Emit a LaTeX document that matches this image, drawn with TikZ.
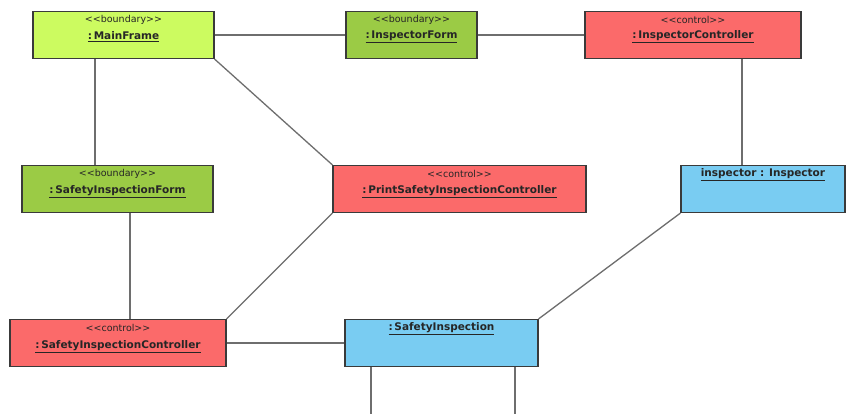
\documentclass[tikz,border=0pt]{standalone}
\usepackage{fontspec}
\setmainfont{DejaVu Sans}
\usetikzlibrary{calc}
\definecolor{boundlight}{HTML}{CCFB60}
\definecolor{bounddark}{HTML}{9BCB45}
\definecolor{ctrlred}{HTML}{FB6A6A}
\definecolor{entblue}{HTML}{79CCF2}
\definecolor{edgegray}{HTML}{3A3A3A}
\definecolor{linkgray}{HTML}{6E6E6E}
% stereotype in double angle brackets, kept apart so no guillemet ligature forms
\newcommand\umlstereo[1]{{<}{<}#1{>}{>}}
\begin{document}
\begin{tikzpicture}[x=1pt,y=-1pt,
  obj/.style={draw=edgegray, line width=1.2pt, inner sep=0pt, minimum height=47pt},
  bndA/.style={obj, fill=boundlight},
  bndB/.style={obj, fill=bounddark},
  ctl/.style={obj, fill=ctrlred},
  ent/.style={obj, fill=entblue},
  stereo/.style={inner sep=0pt, font=\fontsize{9.5}{10}\selectfont, text=black!85},
  oname/.style={inner sep=0pt, font=\fontsize{10.5}{11}\selectfont\bfseries, text=black!85},
  link/.style={draw=linkgray, line width=1.3pt}
]
\useasboundingbox (0,0) rectangle (849,414);
\fill[white] (0,0) rectangle (849,414);

% object boxes
\node[bndA, minimum width=181pt] (mf)  at (123.5,35) {};
\node[bndB, minimum width=131pt] (inf) at (411.5,35) {};
\node[ctl,  minimum width=216pt] (ic)  at (693,35) {};
\node[bndB, minimum width=191pt] (sif) at (117.5,189) {};
\node[ctl,  minimum width=253pt] (psic) at (459.5,189) {};
\node[ent,  minimum width=164pt] (ins) at (763,189) {};
\node[ctl,  minimum width=216pt] (sic) at (118,343) {};
\node[ent,  minimum width=193pt] (si)  at (441.5,343) {};

% stereotypes and object names
\node[stereo] (mf-st)  at ($(mf.north)+(0,9)$)  {\umlstereo{boundary}};
\node[oname]  (mf-nm)  at ($(mf.north)+(0,26)$) {\underline{:\,MainFrame}};
\node[stereo] (inf-st) at ($(inf.north)+(0,9)$)  {\umlstereo{boundary}};
\node[oname]  (inf-nm) at ($(inf.north)+(0,26)$) {\underline{:\,InspectorForm}};
\node[stereo] (ic-st)  at ($(ic.north)+(0,9)$)  {\umlstereo{control}};
\node[oname]  (ic-nm)  at ($(ic.north)+(0,26)$) {\underline{:\,InspectorController}};
\node[stereo] (sif-st) at ($(sif.north)+(0,9)$)  {\umlstereo{boundary}};
\node[oname]  (sif-nm) at ($(sif.north)+(0,27)$) {\underline{:\,SafetyInspectionForm}};
\node[stereo] (psic-st) at ($(psic.north)+(0,9)$)  {\umlstereo{control}};
\node[oname]  (psic-nm) at ($(psic.north)+(0,27)$) {\underline{:\,PrintSafetyInspectionController}};
\node[oname]  (ins-nm) at ($(ins.north)+(0,10)$) {\underline{inspector : Inspector}};
\node[stereo] (sic-st) at ($(sic.north)+(0,9)$)  {\umlstereo{control}};
\node[oname]  (sic-nm) at ($(sic.north)+(0,28)$) {\underline{:\,SafetyInspectionController}};
\node[oname]  (si-nm)  at ($(si.north)+(0,10)$) {\underline{:\,SafetyInspection}};

% free ends of the two links leaving the bottom edge
\coordinate (outA) at (371,414);
\coordinate (outB) at (515,414);

% links
\draw[link] (mf.east) -- (inf.west);
\draw[link] (inf.east) -- (ic.west);
\draw[link] (ic.south -| 742,0) -- (ins.north -| 742,0);
\draw[link] (mf.south -| 95,0) -- (sif.north -| 95,0);
\draw[link] (mf.south east) -- (psic.north west);
\draw[link] (sif.south -| 130,0) -- (sic.north -| 130,0);
\draw[link] (psic.south west) -- (sic.north east);
\draw[link] (sic.east) -- (si.west);
\draw[link] (ins.south west) -- (si.north east);
\draw[link] (si.south -| outA) -- (outA);
\draw[link] (si.south -| outB) -- (outB);
\end{tikzpicture}
\end{document}
